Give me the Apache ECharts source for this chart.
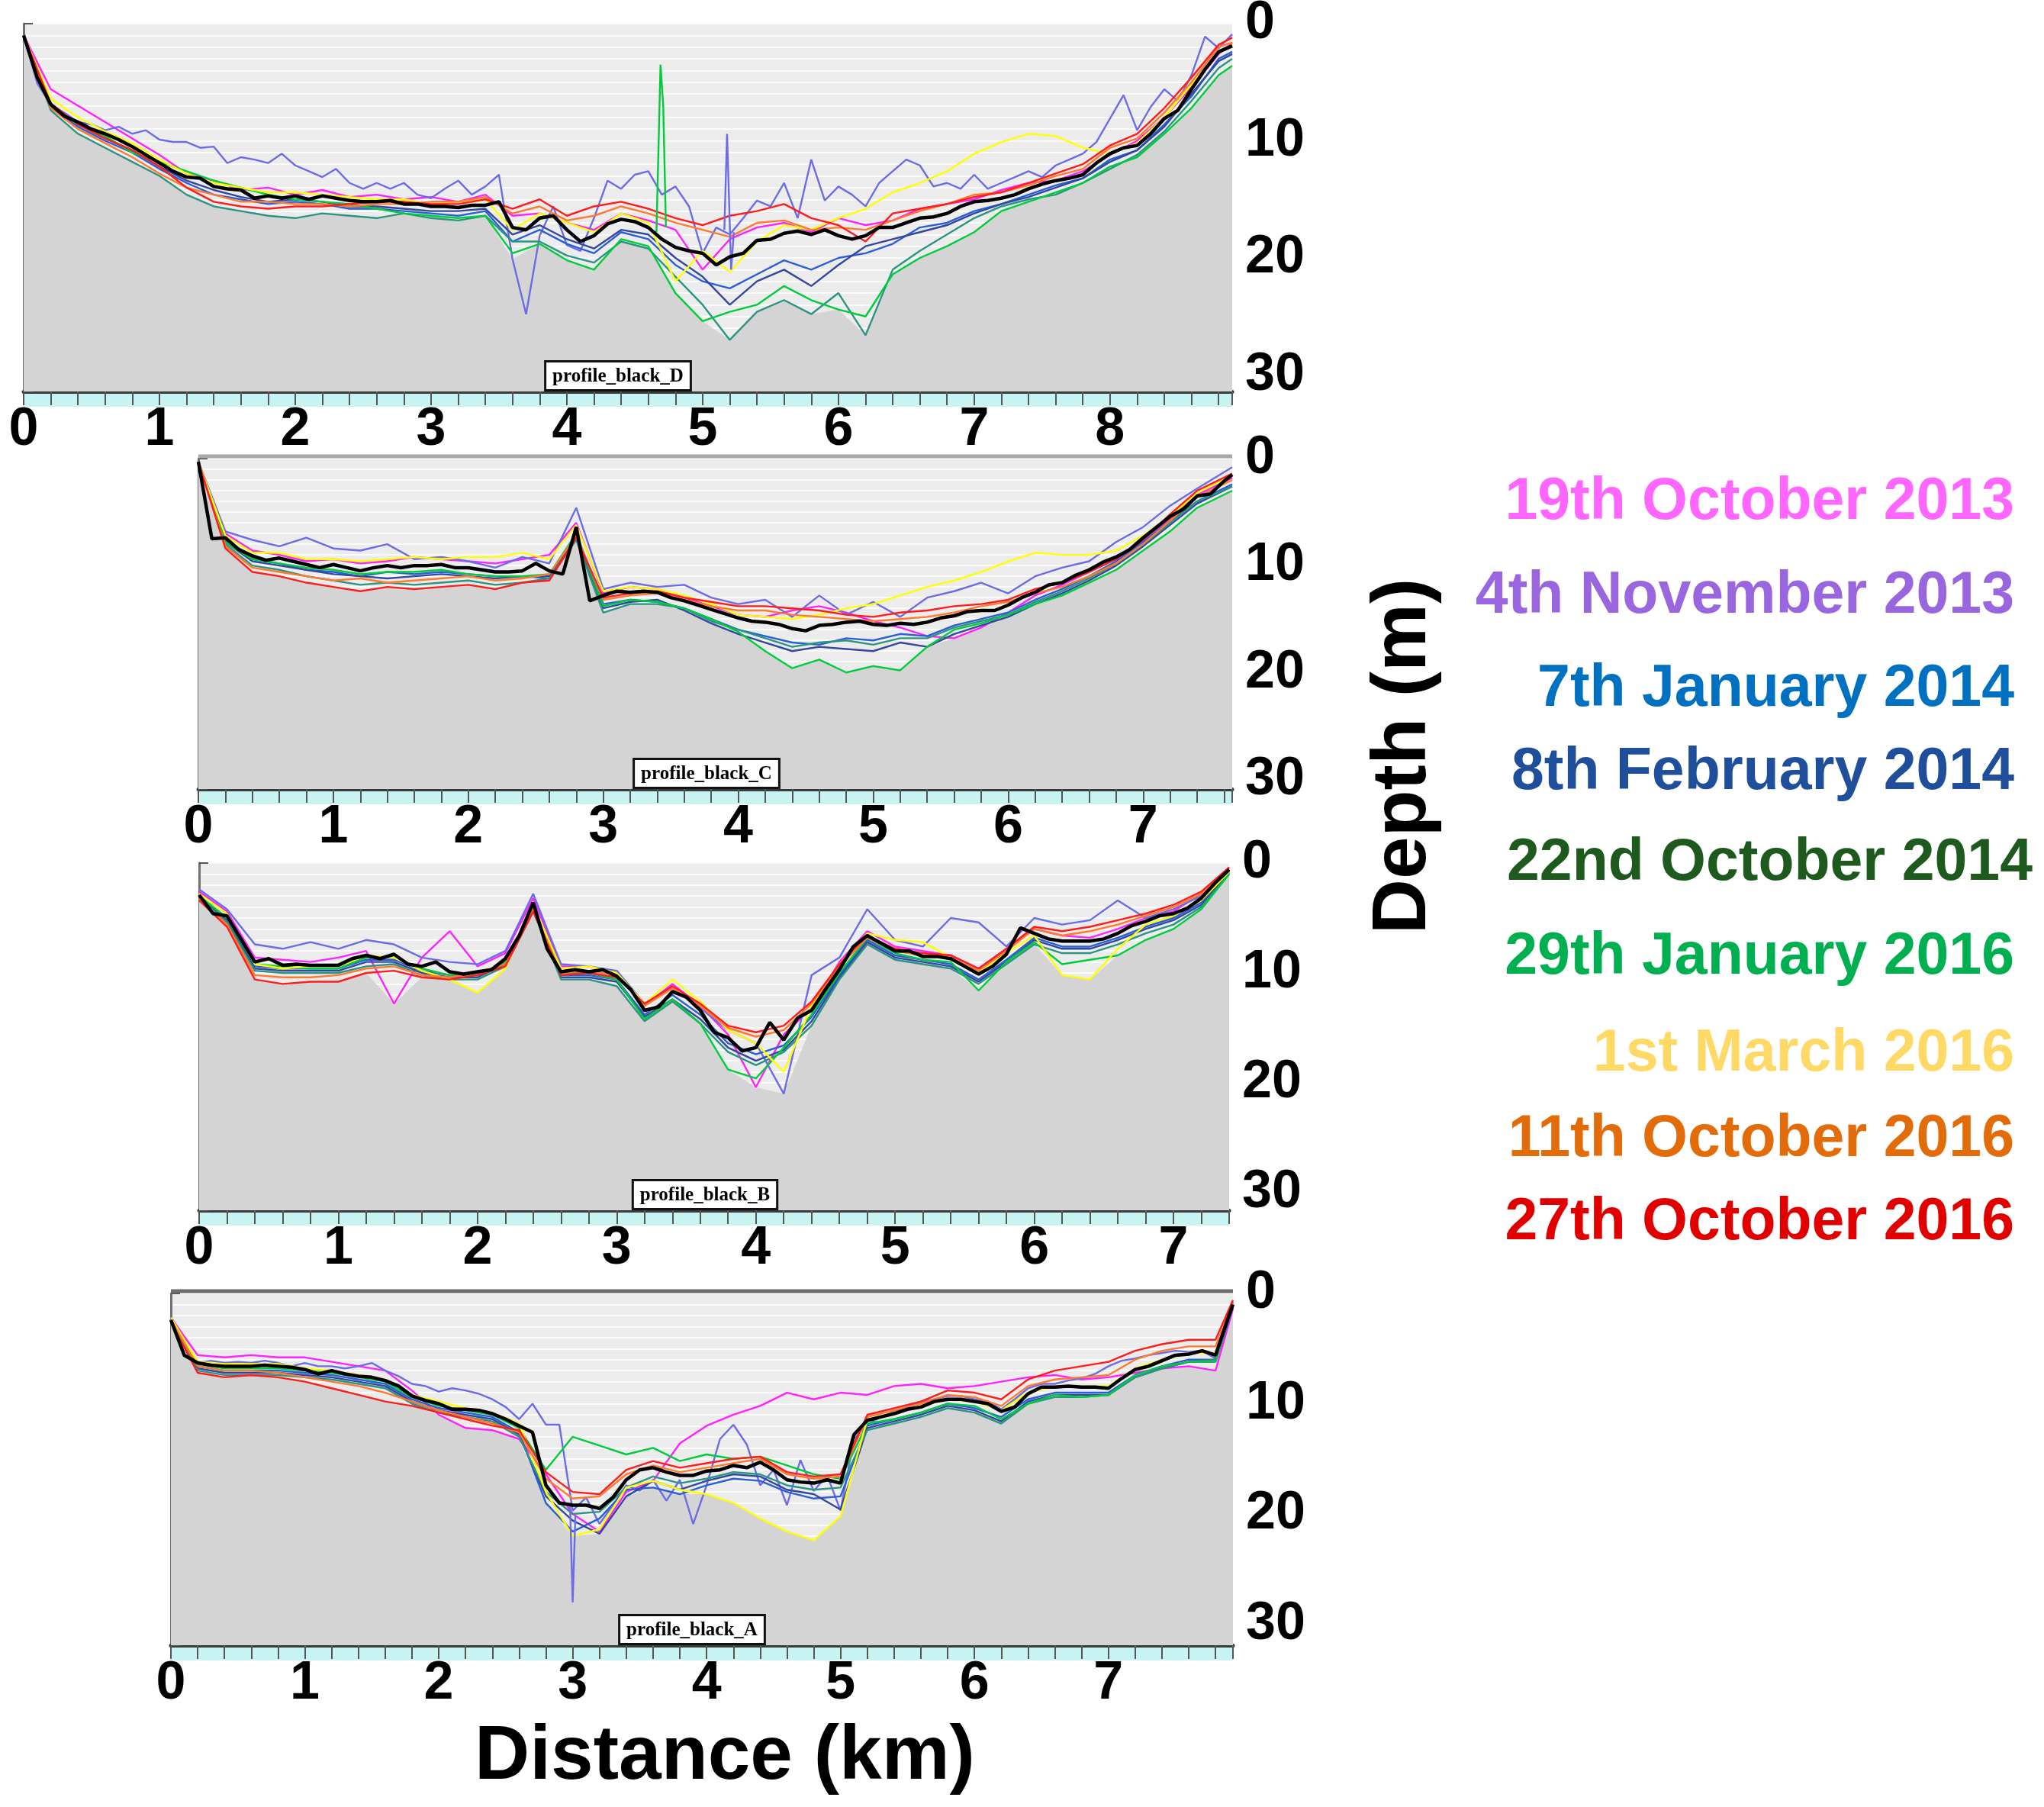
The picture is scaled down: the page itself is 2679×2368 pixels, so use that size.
<!DOCTYPE html>
<html>
<head>
<meta charset="utf-8">
<title>Repeated depth profiles</title>
<script src="https://cdn.jsdelivr.net/npm/echarts@6/dist/echarts.min.js"></script>
<style>
  html, body { margin: 0; padding: 0; background: #fff; }
  #chart { width: 2679px; height: 2368px; }
</style>
</head>
<body>
<div id="chart"></div>
<script>
// survey dates, in legend order
const surveyDates = ['19th October 2013', '4th November 2013', '7th January 2014', '8th February 2014',
  '22nd October 2014', '29th January 2016', '1st March 2016', '11th October 2016', '27th October 2016'];
const dateColors = ['#ff66ff', '#9966e0', '#0070c0', '#1f4e9a', '#1e5a1e', '#00b050', '#ffd966', '#e36c0a', '#e00000'];
const lineColors = ['#ff22ff', '#6c6ce6', '#2a5fd8', '#34489e', '#2c9482', '#00cc3c', '#ffff00', '#ff7a2e', '#ff1c1c'];
const xTicks = [0, 1, 2, 3, 4, 5, 6, 7, 8];
const yTicks = [0, 10, 20, 30];

// ---------- profile_black_D ----------
const distD = [0, 0.1, 0.2, 0.3, 0.4, 0.5, 0.6, 0.7, 0.8, 0.9, 1, 1.1, 1.2, 1.3, 1.4, 1.5, 1.6, 1.7, 1.8, 1.9,
  2, 2.1, 2.2, 2.3, 2.4, 2.5, 2.6, 2.7, 2.8, 2.9, 3, 3.1, 3.2, 3.3, 3.4, 3.5, 3.6, 3.7, 3.8, 3.9,
  4, 4.1, 4.2, 4.3, 4.4, 4.5, 4.6, 4.7, 4.8, 4.9, 5, 5.1, 5.2, 5.3, 5.4, 5.5, 5.6, 5.7, 5.8, 5.9,
  6, 6.1, 6.2, 6.3, 6.4, 6.5, 6.6, 6.7, 6.8, 6.9, 7, 7.1, 7.2, 7.3, 7.4, 7.5, 7.6, 7.7, 7.8, 7.9,
  8, 8.1, 8.2, 8.3, 8.4, 8.5, 8.6, 8.7, 8.8, 8.9];
const meanD = [1.0, 4.6, 6.9, 7.9, 8.4, 9.0, 9.4, 9.9, 10.5, 11.2,
  11.9, 12.6, 13.1, 13.2, 13.9, 14.1, 14.2, 14.9, 14.7, 14.9,
  14.7, 15.0, 14.7, 14.9, 15.1, 15.2, 15.2, 15.1, 15.4, 15.4,
  15.6, 15.6, 15.7, 15.5, 15.5, 15.2, 17.4, 17.6, 16.6, 16.4,
  17.6, 18.6, 18.1, 17.1, 16.7, 16.9, 17.4, 18.4, 19.1, 19.4,
  19.6, 20.6, 19.9, 19.6, 18.5, 18.4, 17.9, 17.7, 18.0, 17.6,
  18.1, 18.4, 18.1, 17.4, 17.4, 17.0, 16.6, 16.5, 16.2, 15.6,
  15.2, 15.1, 14.9, 14.6, 14.1, 13.7, 13.4, 13.2, 12.9, 11.9,
  11.1, 10.6, 10.4, 9.4, 8.1, 7.4, 5.6, 3.9, 2.4, 1.9];
const distD2 = [0, 0.2, 0.4, 0.6, 0.8, 1, 1.2, 1.4, 1.6, 1.8, 2, 2.2, 2.4, 2.6, 2.8, 3, 3.2, 3.4, 3.6, 3.8,
  4, 4.2, 4.4, 4.6, 4.8, 5, 5.2, 5.4, 5.6, 5.8, 6, 6.2, 6.4, 6.6, 6.8, 7, 7.2, 7.4, 7.6, 7.8,
  8, 8.2, 8.4, 8.6, 8.8, 8.9];
const oct19D = [1.0, 5.6, 7.0, 8.4, 9.8, 11.2, 12.8, 13.4, 14.2, 14.0, 14.6, 14.2, 14.8, 14.6, 15.0, 14.8, 15.2, 14.6, 16.4, 16.2,
  17.0, 17.6, 16.2, 16.8, 17.6, 21.0, 18.4, 17.4, 17.0, 17.8, 16.6, 17.2, 16.8, 15.8, 15.4, 15.0, 14.2, 13.6, 13.4, 12.6,
  11.2, 10.0, 8.0, 5.4, 2.6, 1.6];
// 4th November 2013 read at 0.1 km (on distD)
const nov4D = [1.0, 5.1, 6.9, 7.6, 8.4, 8.6, 9.1, 8.8, 9.4, 9.1,
  9.9, 10.1, 10.1, 10.6, 10.5, 11.9, 11.4, 11.6, 11.9, 11.1,
  12.1, 12.6, 13.1, 12.4, 13.6, 14.1, 13.6, 14.1, 13.6, 14.6,
  14.9, 14.1, 13.4, 14.6, 13.9, 12.9, 20.1, 24.8, 18.1, 15.6,
  18.9, 19.4, 16.6, 13.4, 14.1, 12.9, 12.6, 14.6, 13.9, 15.6,
  19.6, 17.4, 18.0, 16.6, 15.1, 15.6, 13.6, 16.6, 11.6, 15.1,
  13.9, 14.6, 15.6, 13.6, 12.6, 11.6, 12.1, 13.9, 13.6, 14.1,
  12.9, 14.1, 13.6, 13.1, 12.6, 13.1, 12.1, 11.6, 11.1, 10.1,
  8.1, 6.1, 9.1, 7.1, 5.6, 6.6, 4.4, 1.1, 2.1, 0.9];
const jan7D = [1.0, 7.2, 8.8, 10.0, 11.0, 12.4, 13.6, 14.6, 15.0, 15.4, 15.2, 15.4, 15.8, 15.8, 16.0, 16.2, 16.4, 16.0, 18.6, 17.6,
  18.8, 19.6, 17.8, 18.4, 20.6, 22.0, 22.6, 21.4, 20.2, 21.0, 20.0, 19.6, 18.8, 17.4, 17.0, 16.0, 15.4, 14.6, 13.8, 13.2,
  11.6, 10.8, 8.6, 6.2, 3.0, 2.4];
const feb8D = [1.0, 7.0, 8.6, 9.8, 10.8, 12.2, 13.4, 14.2, 14.8, 15.2, 15.0, 15.2, 15.6, 15.6, 15.8, 16.0, 16.0, 15.8, 18.0, 17.2,
  18.4, 19.2, 17.6, 18.0, 20.0, 21.6, 24.0, 22.0, 21.0, 22.4, 20.6, 19.0, 18.4, 17.8, 17.2, 16.2, 15.4, 14.8, 14.0, 13.2,
  11.8, 10.8, 8.8, 6.0, 3.2, 2.6];
const oct22D = [1.0, 7.4, 9.4, 10.6, 11.8, 13.0, 14.6, 15.6, 16.0, 16.4, 16.6, 16.2, 16.4, 16.6, 16.2, 16.6, 16.8, 16.4, 18.6, 18.6,
  19.8, 20.4, 18.6, 19.2, 21.6, 24.0, 27.0, 24.6, 23.6, 24.8, 23.0, 26.6, 21.0, 19.4, 18.0, 16.6, 15.6, 15.0, 14.6, 13.6,
  12.4, 11.2, 9.2, 6.6, 3.8, 3.0];
const jan29D = [1.0, 7.0, 8.6, 9.6, 11.0, 11.8, 12.6, 13.4, 14.0, 14.6, 15.0, 15.2, 15.4, 15.8, 16.2, 16.4, 16.6, 16.4, 19.6, 18.8,
  20.2, 21.0, 18.4, 19.0, 23.0, 25.4, 24.6, 24.0, 22.4, 23.6, 24.4, 25.0, 21.4, 20.0, 19.0, 17.8, 16.0, 15.2, 14.4, 13.6,
  12.2, 11.4, 9.4, 7.2, 4.4, 3.6];
const mar1D = [1.0, 6.4, 8.0, 9.2, 10.2, 11.6, 12.8, 13.6, 14.0, 14.4, 14.4, 14.6, 14.8, 15.0, 15.0, 15.4, 15.2, 15.0, 17.6, 16.2,
  17.0, 17.8, 16.2, 17.0, 22.0, 19.4, 21.2, 18.6, 17.2, 17.6, 16.6, 15.8, 14.4, 13.6, 12.6, 11.1, 10.1, 9.4, 9.6, 10.6,
  11.1, 10.2, 8.0, 5.2, 2.4, 1.8];
const oct11D = [1.0, 7.2, 9.0, 10.2, 11.4, 12.8, 14.0, 14.6, 15.2, 15.2, 15.4, 15.4, 15.6, 15.4, 15.4, 15.2, 15.2, 14.8, 16.2, 15.6,
  16.8, 16.4, 15.6, 16.2, 17.0, 17.6, 18.2, 17.0, 16.8, 17.6, 17.4, 17.6, 16.8, 16.0, 15.4, 14.6, 14.4, 13.8, 13.0, 12.4,
  10.6, 9.8, 7.6, 5.0, 2.0, 1.6];
const oct27D = [1.0, 6.8, 8.6, 9.8, 10.8, 12.2, 14.0, 15.2, 15.6, 15.8, 15.6, 15.6, 15.4, 15.2, 15.2, 15.4, 15.4, 15.0, 15.8, 15.0,
  16.4, 15.6, 15.2, 15.8, 16.6, 17.2, 16.4, 16.0, 15.4, 16.6, 17.2, 18.6, 16.2, 15.8, 15.4, 14.8, 14.4, 13.6, 12.8, 12.0,
  10.4, 9.4, 7.2, 4.6, 1.8, 1.2];
// narrow spikes read separately
const spikeJan29D = [[4.66, 17.8], [4.69, 3.5], [4.71, 7.0], [4.73, 17.4]];
const spikeNov4D = [[5.16, 17.6], [5.18, 9.4], [5.21, 21.0], [5.23, 17.8]];

// ---------- profile_black_C ----------
const distC = [0, 0.1, 0.2, 0.3, 0.4, 0.5, 0.6, 0.7, 0.8, 0.9, 1, 1.1, 1.2, 1.3, 1.4, 1.5, 1.6, 1.7, 1.8, 1.9,
  2, 2.1, 2.2, 2.3, 2.4, 2.5, 2.6, 2.7, 2.8, 2.9, 3, 3.1, 3.2, 3.3, 3.4, 3.5, 3.6, 3.7, 3.8, 3.9,
  4, 4.1, 4.2, 4.3, 4.4, 4.5, 4.6, 4.7, 4.8, 4.9, 5, 5.1, 5.2, 5.3, 5.4, 5.5, 5.6, 5.7, 5.8, 5.9,
  6, 6.1, 6.2, 6.3, 6.4, 6.5, 6.6, 6.7, 6.8, 6.9, 7, 7.1, 7.2, 7.3, 7.4, 7.5, 7.6, 7.66];
const meanC = [0.3, 7.5, 7.4, 8.5, 9.1, 9.5, 9.3, 9.6, 9.9, 10.2,
  9.9, 10.2, 10.5, 10.2, 10.0, 10.2, 10.0, 10.0, 9.9, 10.2,
  10.2, 10.4, 10.6, 10.6, 10.5, 9.8, 10.5, 10.8, 6.4, 13.3,
  12.8, 12.4, 12.5, 12.4, 12.5, 13.0, 13.3, 13.7, 14.1, 14.5,
  14.9, 15.2, 15.3, 15.5, 15.9, 16.1, 15.6, 15.5, 15.3, 15.2,
  15.5, 15.6, 15.4, 15.5, 15.3, 14.9, 14.7, 14.3, 14.2, 14.2,
  13.7, 13.0, 12.5, 11.8, 11.6, 10.9, 10.4, 9.7, 9.2, 8.5,
  7.4, 6.4, 5.4, 4.7, 3.5, 3.3, 2.1, 1.5];
const distC2 = [0, 0.2, 0.4, 0.6, 0.8, 1, 1.2, 1.4, 1.6, 1.8, 2, 2.2, 2.4, 2.6, 2.8, 3, 3.2, 3.4, 3.6, 3.8,
  4, 4.2, 4.4, 4.6, 4.8, 5, 5.2, 5.4, 5.6, 5.8, 6, 6.2, 6.4, 6.6, 6.8, 7, 7.2, 7.4, 7.66];
const oct19C = [0.3, 7.0, 8.6, 9.0, 9.6, 9.4, 9.8, 9.6, 9.2, 9.4, 9.6, 9.8, 9.4, 9.0, 6.0, 12.6, 12.0, 12.2, 13.0, 13.8,
  14.6, 14.8, 14.2, 13.8, 14.4, 15.2, 15.8, 16.6, 16.8, 15.8, 14.4, 12.8, 11.8, 10.6, 9.4, 7.6, 5.6, 3.4, 1.8];
const nov4C = [0.3, 6.8, 7.6, 8.2, 7.4, 8.4, 8.6, 8.0, 9.4, 9.2, 9.6, 10.2, 9.2, 9.8, 4.6, 12.2, 11.6, 12.0, 11.8, 13.0,
  13.6, 13.2, 14.8, 12.8, 14.6, 13.4, 14.8, 13.0, 12.4, 11.6, 12.6, 11.0, 10.2, 9.6, 7.8, 6.4, 4.4, 2.8, 0.8];
const jan7C = [0.3, 7.6, 9.4, 9.8, 10.4, 10.6, 11.0, 10.6, 10.8, 10.6, 10.8, 11.0, 11.0, 11.2, 7.0, 13.6, 13.2, 13.4, 14.0, 15.0,
  16.0, 16.6, 17.2, 17.4, 16.8, 17.0, 16.4, 16.6, 15.6, 15.0, 14.4, 13.2, 12.2, 11.0, 9.6, 7.8, 5.8, 4.0, 2.4];
const feb8C = [0.3, 7.8, 9.6, 10.0, 10.4, 10.8, 11.0, 11.2, 11.0, 10.8, 11.0, 11.2, 11.0, 11.0, 7.4, 14.0, 13.4, 13.2, 14.2, 15.4,
  16.4, 17.2, 18.0, 17.6, 17.8, 18.0, 17.2, 17.6, 16.4, 15.6, 14.8, 13.6, 12.6, 11.4, 10.0, 8.2, 6.2, 4.2, 2.6];
const oct22C = [0.3, 8.0, 10.0, 10.4, 11.0, 11.4, 11.8, 11.6, 11.8, 11.6, 11.4, 11.8, 11.6, 11.2, 7.6, 14.4, 13.6, 13.6, 14.0, 15.2,
  16.0, 16.8, 17.6, 17.2, 17.0, 17.4, 16.8, 16.8, 15.8, 15.2, 14.6, 13.4, 12.4, 11.2, 9.8, 8.0, 6.0, 4.0, 2.6];
const jan29C = [0.3, 7.8, 9.4, 9.8, 10.2, 10.4, 10.8, 10.6, 10.6, 10.4, 10.8, 11.0, 11.0, 10.8, 7.0, 13.8, 13.2, 13.4, 14.0, 15.0,
  16.2, 18.0, 19.6, 18.8, 20.0, 19.4, 19.8, 17.6, 16.0, 15.4, 14.6, 13.6, 12.8, 11.6, 10.4, 8.6, 6.8, 4.6, 3.0];
const mar1C = [0.3, 7.2, 8.8, 8.8, 9.4, 9.4, 9.6, 9.4, 9.2, 9.4, 9.2, 9.2, 8.8, 9.4, 6.2, 12.4, 12.0, 12.2, 12.8, 13.6,
  14.6, 14.8, 15.0, 14.6, 14.0, 13.6, 12.8, 12.0, 11.4, 10.6, 9.6, 8.8, 9.0, 9.0, 8.6, 7.2, 5.4, 3.2, 1.6];
const oct11C = [0.3, 8.2, 10.2, 10.6, 11.0, 11.4, 11.2, 11.6, 11.4, 11.2, 11.0, 11.4, 11.2, 10.8, 7.2, 13.2, 12.8, 12.6, 13.2, 13.8,
  14.2, 14.2, 14.6, 14.8, 15.0, 15.2, 15.0, 14.8, 14.4, 13.8, 13.4, 12.6, 12.0, 11.0, 9.8, 8.0, 5.8, 3.6, 2.0];
const oct27C = [0.3, 8.4, 10.6, 11.0, 11.6, 12.0, 12.4, 12.0, 12.2, 12.0, 11.8, 12.2, 11.6, 11.4, 7.4, 13.0, 12.6, 12.4, 13.0, 13.4,
  13.8, 13.8, 14.0, 14.2, 14.6, 14.8, 14.4, 14.2, 13.8, 13.6, 13.2, 12.2, 11.6, 10.6, 9.4, 7.6, 5.2, 3.0, 1.4];

// ---------- profile_black_B ----------
const distB = [0, 0.1, 0.2, 0.3, 0.4, 0.5, 0.6, 0.7, 0.8, 0.9, 1, 1.1, 1.2, 1.3, 1.4, 1.5, 1.6, 1.7, 1.8, 1.9,
  2, 2.1, 2.2, 2.3, 2.4, 2.5, 2.6, 2.7, 2.8, 2.9, 3, 3.1, 3.2, 3.3, 3.4, 3.5, 3.6, 3.7, 3.8, 3.9,
  4, 4.1, 4.2, 4.3, 4.4, 4.5, 4.6, 4.7, 4.8, 4.9, 5, 5.1, 5.2, 5.3, 5.4, 5.5, 5.6, 5.7, 5.8, 5.9,
  6, 6.1, 6.2, 6.3, 6.4, 6.5, 6.6, 6.7, 6.8, 6.9, 7, 7.1, 7.2, 7.3, 7.4];
const meanB = [2.9, 4.6, 4.8, 6.9, 9.0, 8.7, 9.3, 9.2, 9.3, 9.3,
  9.3, 8.7, 8.4, 8.7, 8.3, 9.2, 9.4, 9.0, 9.9, 10.1,
  9.9, 9.7, 8.7, 6.6, 3.6, 7.8, 9.9, 9.7, 9.9, 9.7,
  10.3, 11.5, 13.4, 13.1, 11.7, 12.2, 13.4, 15.4, 15.9, 17.1,
  16.8, 14.5, 16.1, 14.1, 13.4, 11.5, 9.7, 7.6, 6.6, 7.3,
  8.0, 8.0, 8.5, 8.5, 8.7, 9.4, 10.1, 9.4, 8.3, 5.9,
  6.4, 6.9, 7.1, 7.1, 7.1, 6.9, 6.4, 5.7, 5.3, 4.8,
  4.6, 4.1, 3.2, 1.8, 0.6];
const distB2 = [0, 0.2, 0.4, 0.6, 0.8, 1, 1.2, 1.4, 1.6, 1.8, 2, 2.2, 2.4, 2.6, 2.8, 3, 3.2, 3.4, 3.6, 3.8,
  4, 4.2, 4.4, 4.6, 4.8, 5, 5.2, 5.4, 5.6, 5.8, 6, 6.2, 6.4, 6.6, 6.8, 7, 7.2, 7.4];
const oct19B = [2.6, 4.4, 8.6, 8.8, 9.0, 8.6, 8.0, 12.8, 8.6, 6.2, 9.4, 8.2, 3.2, 9.4, 9.4, 10.0, 13.0, 11.0, 13.0, 15.6,
  20.4, 15.6, 13.2, 9.0, 6.2, 7.6, 8.0, 8.4, 9.6, 7.8, 6.0, 6.6, 6.8, 6.0, 5.0, 4.4, 2.8, 0.4];
const nov4B = [2.4, 4.2, 7.4, 7.8, 7.2, 7.8, 7.0, 7.4, 8.6, 9.0, 9.2, 8.0, 2.8, 9.2, 9.4, 9.8, 12.8, 11.4, 13.2, 15.2,
  16.4, 21.0, 10.2, 8.6, 4.2, 7.0, 7.6, 5.0, 5.4, 7.6, 5.0, 5.6, 5.2, 3.4, 5.0, 4.2, 3.0, 0.4];
const jan7B = [3.0, 5.0, 9.4, 9.6, 9.6, 9.6, 8.8, 8.8, 9.8, 10.2, 10.2, 9.0, 4.0, 10.2, 10.2, 10.6, 13.8, 12.0, 13.8, 16.4,
  17.4, 16.6, 14.0, 10.2, 7.0, 8.4, 8.8, 9.2, 10.6, 8.8, 6.8, 7.6, 7.6, 6.8, 5.8, 5.0, 3.6, 0.8];
const feb8B = [3.1, 5.2, 9.6, 9.8, 9.8, 9.8, 9.0, 9.0, 10.0, 10.4, 10.4, 9.2, 4.2, 10.4, 10.4, 10.8, 14.0, 12.4, 14.2, 16.8,
  18.0, 17.0, 14.4, 10.4, 7.2, 8.6, 9.0, 9.4, 10.8, 9.0, 7.0, 7.8, 7.8, 7.0, 6.0, 5.2, 3.8, 0.9];
const oct22B = [3.2, 5.4, 9.8, 10.0, 10.0, 10.0, 9.4, 9.2, 10.2, 10.6, 10.6, 9.4, 4.4, 10.6, 10.6, 11.2, 14.4, 12.6, 14.6, 17.2,
  18.4, 17.2, 14.8, 10.6, 7.4, 8.8, 9.2, 9.6, 11.0, 9.2, 7.4, 8.2, 8.2, 7.4, 6.4, 5.6, 4.0, 1.0];
const jan29B = [3.0, 5.0, 9.2, 9.4, 9.6, 9.6, 8.6, 8.6, 9.6, 10.2, 10.2, 9.0, 4.0, 10.0, 10.0, 10.6, 14.2, 12.4, 14.6, 18.8,
  19.6, 16.8, 13.8, 10.0, 6.8, 8.2, 8.8, 9.0, 11.6, 9.0, 7.2, 9.2, 8.8, 8.4, 7.0, 6.0, 4.2, 1.0];
const mar1B = [2.8, 4.6, 9.2, 9.6, 9.4, 9.4, 8.4, 8.6, 9.8, 10.6, 11.8, 9.6, 3.8, 9.6, 9.4, 10.0, 12.8, 10.6, 12.6, 15.2,
  16.4, 19.0, 13.0, 9.2, 6.4, 7.0, 7.2, 8.6, 10.0, 8.2, 6.6, 10.2, 10.6, 7.8, 5.6, 4.8, 3.4, 0.8];
const oct11B = [3.2, 5.6, 10.2, 10.4, 10.4, 10.2, 9.6, 9.4, 10.2, 10.4, 10.0, 9.2, 4.2, 10.0, 9.8, 10.2, 13.0, 11.4, 13.0, 15.0,
  15.8, 15.2, 12.8, 9.4, 6.8, 8.0, 8.4, 8.6, 9.8, 8.0, 6.0, 6.6, 6.2, 5.6, 4.8, 4.0, 2.8, 0.5];
const oct27B = [3.4, 5.8, 10.6, 11.0, 10.8, 10.8, 10.0, 9.8, 10.4, 10.6, 10.2, 9.4, 4.4, 10.2, 10.0, 10.4, 12.8, 11.2, 12.8, 14.8,
  15.4, 14.8, 12.6, 9.2, 6.6, 7.8, 8.2, 8.4, 9.6, 7.8, 5.8, 6.2, 5.8, 5.2, 4.6, 3.8, 2.6, 0.4];

// ---------- profile_black_A ----------
const distA = [0, 0.1, 0.2, 0.3, 0.4, 0.5, 0.6, 0.7, 0.8, 0.9, 1, 1.1, 1.2, 1.3, 1.4, 1.5, 1.6, 1.7, 1.8, 1.9,
  2, 2.1, 2.2, 2.3, 2.4, 2.5, 2.6, 2.7, 2.8, 2.9, 3, 3.1, 3.2, 3.3, 3.4, 3.5, 3.6, 3.7, 3.8, 3.9,
  4, 4.1, 4.2, 4.3, 4.4, 4.5, 4.6, 4.7, 4.8, 4.9, 5, 5.1, 5.2, 5.3, 5.4, 5.5, 5.6, 5.7, 5.8, 5.9,
  6, 6.1, 6.2, 6.3, 6.4, 6.5, 6.6, 6.7, 6.8, 6.9, 7, 7.1, 7.2, 7.3, 7.4, 7.5, 7.6, 7.7, 7.8, 7.9, 7.93];
const meanA = [2.4, 5.6, 6.3, 6.5, 6.6, 6.6, 6.6, 6.5, 6.6, 6.7,
  6.9, 7.3, 7.0, 7.3, 7.5, 7.6, 7.9, 8.4, 9.3, 9.7,
  10.0, 10.5, 10.5, 10.6, 10.9, 11.4, 12.0, 12.6, 17.4, 19.0,
  19.2, 19.2, 19.5, 18.5, 16.9, 16.0, 15.8, 16.2, 16.5, 16.5,
  16.1, 16.0, 15.6, 15.8, 15.3, 16.0, 16.9, 17.1, 17.2, 16.9,
  17.2, 12.8, 11.5, 11.2, 10.9, 10.5, 10.3, 9.8, 9.6, 9.6,
  9.8, 10.0, 10.7, 10.3, 9.1, 8.5, 8.5, 8.4, 8.5, 8.5,
  8.6, 7.7, 6.9, 6.6, 6.1, 5.6, 5.5, 5.2, 5.6, 2.0, 1.0];
const distA2 = [0, 0.2, 0.4, 0.6, 0.8, 1, 1.2, 1.4, 1.6, 1.8, 2, 2.2, 2.4, 2.6, 2.8, 3, 3.2, 3.4, 3.6, 3.8,
  4, 4.2, 4.4, 4.6, 4.8, 5, 5.2, 5.4, 5.6, 5.8, 6, 6.2, 6.4, 6.6, 6.8, 7, 7.2, 7.4, 7.6, 7.8, 7.93];
const oct19A = [2.2, 5.6, 5.8, 5.6, 5.8, 5.8, 6.2, 6.6, 7.0, 8.8, 11.0, 12.2, 12.4, 13.2, 16.4, 20.0, 21.6, 18.0, 17.0, 13.6,
  12.0, 11.0, 10.2, 9.0, 9.6, 9.0, 9.2, 8.4, 8.2, 8.6, 8.4, 8.0, 7.6, 7.4, 7.8, 7.6, 7.2, 6.8, 6.6, 7.0, 1.4];
// 4th November 2013 read at 0.1 km (on distA)
const nov4A = [2.2, 5.6, 6.3, 6.1, 6.3, 6.2, 6.3, 6.1, 6.3, 6.6, 6.3,
  6.6, 6.6, 6.8, 6.6, 6.3, 7.0, 7.5, 8.2, 8.4, 8.9,
  8.6, 8.8, 9.1, 9.6, 10.3, 11.4, 10.0, 11.9, 11.9, 19.7,
  18.5, 20.9, 19.2, 17.4, 17.9, 16.9, 18.8, 16.9, 20.9, 17.4,
  13.2, 11.9, 13.7, 17.4, 16.0, 19.2, 15.1, 17.9, 16.5, 19.7,
  13.2, 11.9, 11.2, 10.7, 10.3, 9.8, 9.6, 9.3, 9.3, 9.6,
  9.8, 10.5, 9.6, 8.6, 8.2, 8.2, 7.9, 7.7, 7.3, 6.6,
  6.1, 5.9, 5.6, 5.4, 5.2, 5.3, 5.2, 5.9, 2.4, 0.8];
const jan7A = [2.4, 6.6, 7.0, 7.0, 7.0, 7.2, 7.4, 7.8, 8.2, 9.6, 10.4, 10.8, 11.2, 12.6, 19.0, 21.6, 20.4, 17.8, 17.6, 18.2,
  17.4, 16.8, 17.0, 18.0, 18.6, 18.4, 12.0, 11.4, 10.8, 10.0, 10.4, 11.2, 9.6, 9.0, 9.0, 9.0, 7.4, 6.6, 6.0, 6.0, 1.2];
const feb8A = [2.5, 6.8, 7.2, 7.2, 7.2, 7.4, 7.6, 8.0, 8.4, 9.8, 10.6, 11.0, 11.4, 12.8, 18.4, 20.6, 21.8, 18.4, 17.0, 17.8,
  17.0, 16.4, 16.6, 17.8, 18.2, 19.6, 12.2, 11.6, 11.0, 10.2, 10.6, 11.6, 9.8, 9.2, 9.2, 9.2, 7.6, 6.8, 6.2, 6.2, 1.2];
const oct22A = [2.6, 7.0, 7.4, 7.4, 7.4, 7.6, 7.8, 8.2, 8.6, 10.0, 10.8, 11.2, 11.6, 13.0, 18.0, 20.0, 19.8, 17.6, 16.6, 17.2,
  16.8, 16.2, 16.4, 17.4, 17.8, 17.6, 12.4, 11.8, 11.2, 10.4, 10.8, 11.8, 10.0, 9.4, 9.4, 9.2, 7.6, 6.8, 6.2, 6.0, 1.0];
const jan29A = [2.4, 6.4, 6.8, 6.8, 6.8, 7.0, 7.2, 7.6, 8.0, 9.4, 10.2, 10.6, 11.0, 12.2, 16.0, 13.0, 13.8, 14.6, 14.0, 15.2,
  14.6, 15.0, 14.8, 15.6, 16.4, 16.8, 11.8, 11.4, 10.8, 10.0, 10.2, 11.4, 10.0, 9.2, 9.4, 9.2, 7.4, 6.6, 6.2, 6.2, 1.0];
const mar1A = [2.2, 6.2, 6.4, 6.4, 6.4, 6.8, 7.0, 7.4, 7.8, 9.2, 9.8, 10.4, 10.8, 11.8, 18.0, 22.0, 21.4, 17.6, 17.0, 17.8,
  18.2, 19.0, 20.4, 21.6, 22.4, 20.2, 11.4, 10.8, 10.2, 9.6, 9.8, 10.6, 9.0, 8.4, 8.4, 8.4, 6.8, 6.0, 5.4, 5.4, 1.0];
const oct11A = [2.4, 6.6, 7.0, 7.0, 7.2, 7.6, 8.0, 8.4, 9.0, 9.8, 10.6, 11.2, 11.8, 12.6, 16.8, 18.6, 18.4, 16.4, 15.6, 16.2,
  15.8, 15.4, 15.0, 16.4, 16.8, 16.6, 11.2, 10.6, 10.0, 9.2, 9.4, 10.2, 8.4, 7.8, 7.6, 7.4, 6.0, 5.2, 4.8, 4.8, 0.8];
const oct27A = [2.6, 7.2, 7.6, 7.4, 7.6, 8.0, 8.6, 9.2, 9.8, 10.2, 10.8, 11.4, 12.0, 12.4, 16.2, 18.0, 18.2, 16.0, 15.2, 15.8,
  15.4, 15.0, 14.8, 16.2, 16.6, 16.4, 11.0, 10.4, 9.8, 8.8, 9.0, 9.6, 7.8, 7.0, 6.6, 6.2, 5.2, 4.6, 4.2, 4.2, 0.6];
const spikeNov4A = [[2.98, 19.0], [3.0, 28.0], [3.02, 20.2]];

// ---------- layout ----------
const FONT = "'Liberation Sans', Arial, Helvetica, sans-serif";
const panels = [
  { name: 'profile_black_D', dist: distD, mean: meanD,
    runs: [oct19D, nov4D, jan7D, feb8D, oct22D, jan29D, mar1D, oct11D, oct27D],
    runDist: [distD2, distD, distD2, distD2, distD2, distD2, distD2, distD2, distD2], envDist: distD2,
    spikes: [[5, spikeJan29D], [1, spikeNov4D]],
    xMax: 8.9, yMax: 31.4, left: 31, top: 31, width: 1584, height: 482, boxX: 810, topLine: null },
  { name: 'profile_black_C', dist: distC, mean: meanC,
    runs: [oct19C, nov4C, jan7C, feb8C, oct22C, jan29C, mar1C, oct11C, oct27C],
    runDist: [distC2, distC2, distC2, distC2, distC2, distC2, distC2, distC2, distC2], envDist: distC2, spikes: [],
    xMax: 7.66, yMax: 30.9, left: 260, top: 601, width: 1355, height: 433, boxX: 926, topLine: '#a8a8a8' },
  { name: 'profile_black_B', dist: distB, mean: meanB,
    runs: [oct19B, nov4B, jan7B, feb8B, oct22B, jan29B, mar1B, oct11B, oct27B],
    runDist: [distB2, distB2, distB2, distB2, distB2, distB2, distB2, distB2, distB2], envDist: distB2, spikes: [],
    xMax: 7.4, yMax: 31.6, left: 261, top: 1131, width: 1350, height: 455, boxX: 924, topLine: null },
  { name: 'profile_black_A', dist: distA, mean: meanA,
    runs: [oct19A, nov4A, jan7A, feb8A, oct22A, jan29A, mar1A, oct11A, oct27A],
    runDist: [distA2, distA, distA2, distA2, distA2, distA2, distA2, distA2, distA2], envDist: distA2,
    spikes: [[1, spikeNov4A]],
    xMax: 7.93, yMax: 31.9, left: 224, top: 1695, width: 1392, height: 461, boxX: 907, topLine: '#6e6e6e' }
];
const legendRight = 2640;
const legendY = [659, 782, 904, 1013, 1132, 1255, 1382, 1494, 1603];

const zip = (xs, ys) => xs.map((x, i) => [x, ys[i]]);
const tickLabel = (ticks) => (v) => (ticks.indexOf(v) >= 0 ? String(v) : '');

const grid = [], xAxis = [], yAxis = [], series = [], graphic = [];

panels.forEach((p, k) => {
  grid.push({ left: p.left, top: p.top, width: p.width, height: p.height, show: true,
    backgroundColor: '#ececec', borderWidth: 0, containLabel: false, outerBoundsMode: 'none' });

  xAxis.push({ type: 'value', gridIndex: k, min: 0, max: p.xMax, interval: 1, position: 'bottom',
    axisLine: { show: true, onZero: false, lineStyle: { color: '#3a3a3a', width: 5 } },
    axisTick: { show: true, length: 18, lineStyle: { color: '#555', width: 2 } },
    minorTick: { show: true, splitNumber: 5, length: 18, lineStyle: { color: '#555', width: 2 } },
    splitLine: { show: false },
    axisLabel: { show: true, margin: 16, color: '#000', fontFamily: FONT, fontWeight: 'bold', fontSize: 70,
      showMaxLabel: false, formatter: tickLabel(xTicks) } });

  // main depth axis
  yAxis.push({ type: 'value', gridIndex: k, min: 0, max: p.yMax, interval: 10, inverse: true, position: 'right',
    axisLine: { show: true, lineStyle: { color: '#707070', width: 3 } },
    axisTick: { show: true, length: 12, lineStyle: { color: '#555', width: 2 } },
    minorTick: { show: true, splitNumber: 2, length: 8, lineStyle: { color: '#555', width: 2 } },
    splitLine: { show: false },
    axisLabel: { show: true, margin: 17, color: '#000', fontFamily: FONT, fontWeight: 'bold', fontSize: 70,
      showMaxLabel: false, formatter: tickLabel(yTicks) } });
  // 1 m stripes in the background
  yAxis.push({ type: 'value', gridIndex: k, min: 0, max: p.yMax, interval: 1, inverse: true, position: 'right',
    axisLine: { show: false }, axisTick: { show: false }, axisLabel: { show: false },
    splitLine: { show: true, lineStyle: { color: '#fbfbfb', width: 2 } } });

  const yi = 2 * k;
  // grey seabed below the deepest survey at each point
  const envelope = p.envDist.map((x) => Math.max(...p.runs.map((r, j) => {
    const i = p.runDist[j].indexOf(x);
    return i >= 0 ? r[i] : 0;
  })));
  series.push({ type: 'line', xAxisIndex: k, yAxisIndex: yi, data: zip(p.envDist, envelope), symbol: 'none',
    silent: true, z: 1, lineStyle: { width: 0, opacity: 0 },
    areaStyle: { color: '#d4d4d4', opacity: 1, origin: 'end' } });

  p.runs.forEach((r, j) => {
    series.push({ type: 'line', name: surveyDates[j], xAxisIndex: k, yAxisIndex: yi, data: zip(p.runDist[j], r),
      symbol: 'none', silent: true, z: 3, lineStyle: { color: lineColors[j], width: 2.4 } });
  });
  p.spikes.forEach(([j, d]) => {
    series.push({ type: 'line', xAxisIndex: k, yAxisIndex: yi, data: d, symbol: 'none', silent: true, z: 3,
      lineStyle: { color: lineColors[j], width: 2.4 } });
  });
  series.push({ type: 'line', name: 'mean', xAxisIndex: k, yAxisIndex: yi, data: zip(p.dist, p.mean),
    symbol: 'none', silent: true, z: 4, lineStyle: { color: '#000', width: 4.5 } });

  // cyan tick strip under the plot
  graphic.push({ type: 'rect', z: -1, silent: true,
    shape: { x: p.left, y: p.top + p.height, width: p.width, height: 20 }, style: { fill: '#c8f3f3' } });
  if (p.topLine) {
    graphic.push({ type: 'line', z: 50, silent: true,
      shape: { x1: p.left, y1: p.top - 3, x2: p.left + p.width, y2: p.top - 3 },
      style: { stroke: p.topLine, lineWidth: 5 } });
  }
  graphic.push({ type: 'text', z: 100, silent: true, x: p.boxX, y: p.top + p.height - 3,
    style: { text: p.name, font: "bold 25px 'Liberation Serif', 'Times New Roman', serif", fill: '#000',
      align: 'center', verticalAlign: 'bottom', backgroundColor: '#fff', borderColor: '#111', borderWidth: 3,
      padding: [6, 8, 4, 8] } });
});

// legend of survey dates
surveyDates.forEach((d, j) => {
  graphic.push({ type: 'text', z: 100, silent: true, x: j === 4 ? legendRight + 24 : legendRight, y: legendY[j],
    style: { text: d, font: 'bold 77px ' + FONT, fill: dateColors[j], align: 'right', verticalAlign: 'middle' } });
});
// axis titles
graphic.push({ type: 'text', z: 100, silent: true, x: 950, y: 2303,
  style: { text: 'Distance (km)', font: 'bold 100px ' + FONT, fill: '#000', align: 'center', verticalAlign: 'middle' } });
graphic.push({ type: 'text', z: 100, silent: true, x: 1840, y: 991, rotation: Math.PI / 2,
  style: { text: 'Depth (m)', font: 'bold 100px ' + FONT, fill: '#000', align: 'center', verticalAlign: 'middle' } });

const chart = echarts.init(document.getElementById('chart'), null, { renderer: 'canvas', width: 2679, height: 2368 });
chart.setOption({
  animation: false,
  backgroundColor: '#ffffff',
  grid, xAxis, yAxis, series, graphic
});
</script>
</body>
</html>
